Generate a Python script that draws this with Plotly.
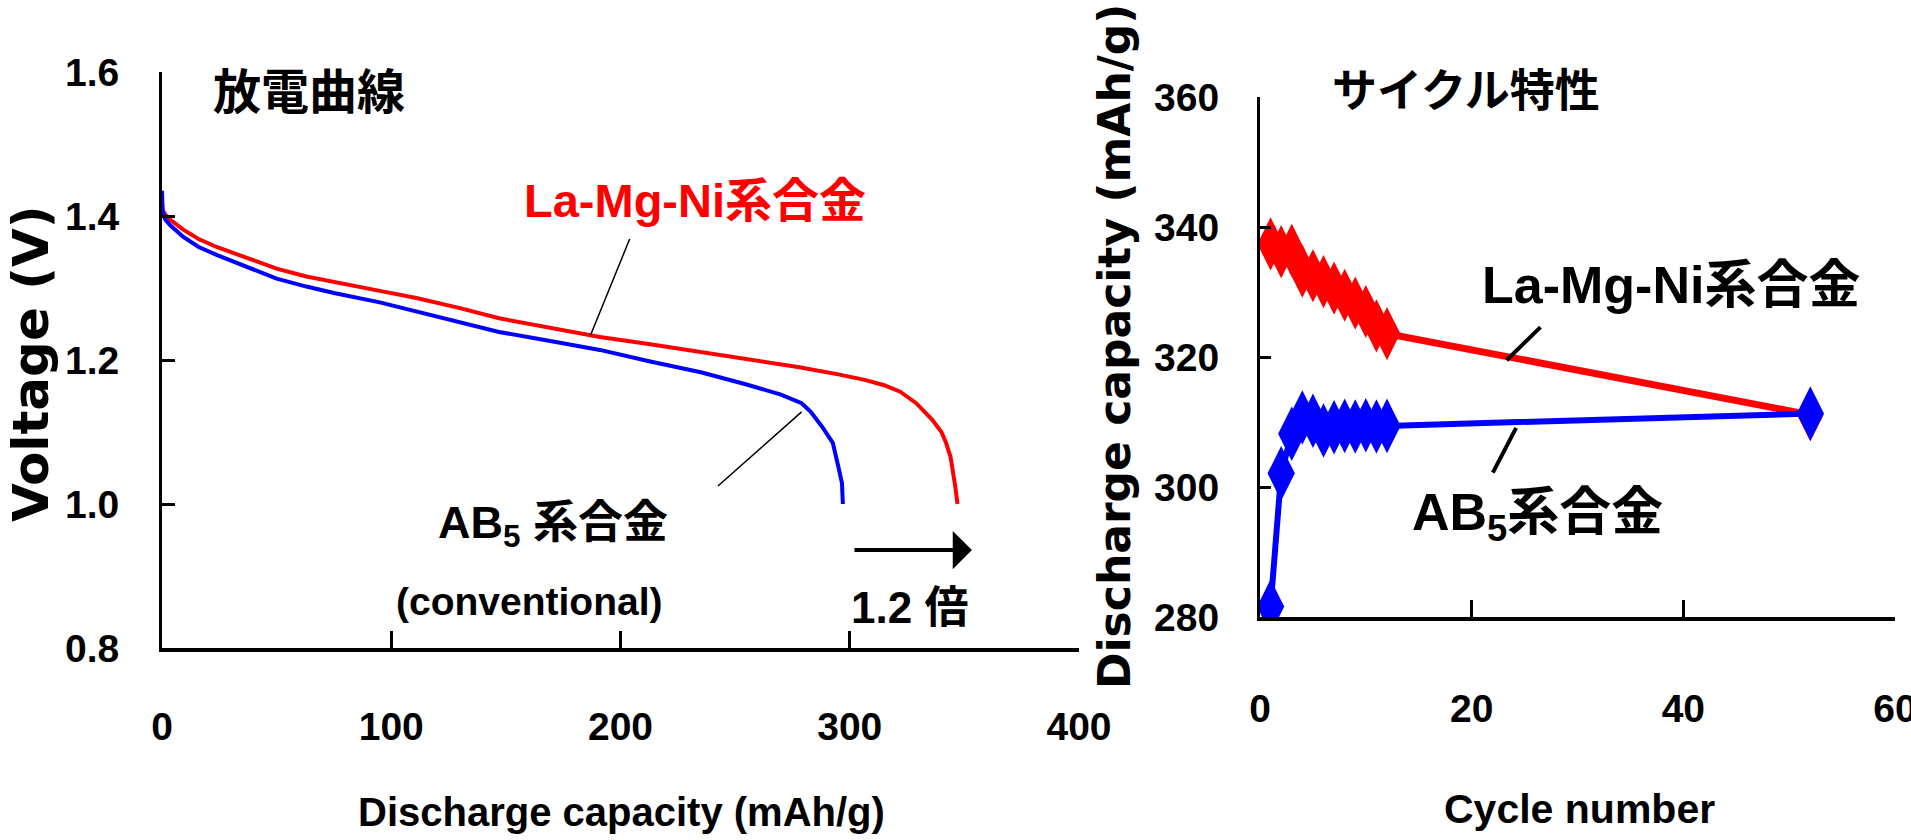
import plotly.graph_objects as go

# ---------------- data ----------------
# Discharge curves (left): capacity (mAh/g) vs voltage (V)
lamgni_cap = [0, 0.3, 1.5, 3.5, 9.3, 16, 23.8, 38.4, 50, 63, 75, 95, 111, 130, 147, 170, 191, 213,
              235, 256, 278, 295, 307, 315, 322, 329, 336, 340, 342, 344, 345, 346, 347]
lamgni_volt = [1.415, 1.408, 1.402, 1.395, 1.381, 1.368, 1.357, 1.340, 1.327, 1.316, 1.308, 1.296,
               1.286, 1.272, 1.258, 1.245, 1.232, 1.222, 1.211, 1.200, 1.190, 1.180, 1.172, 1.165,
               1.156, 1.140, 1.117, 1.100, 1.085, 1.065, 1.047, 1.025, 1.000]
ab5_cap = [0, 0.3, 1.5, 3.5, 9.3, 16, 23.8, 38.4, 50, 63, 75, 95, 111, 130, 147, 170, 191, 213,
           235, 255, 270, 279, 283, 288, 292.6, 295, 296.6, 297]
ab5_volt = [1.435, 1.405, 1.395, 1.3875, 1.371, 1.357, 1.346, 1.327, 1.313, 1.302, 1.293, 1.280,
            1.267, 1.252, 1.239, 1.226, 1.214, 1.198, 1.183, 1.166, 1.152, 1.140, 1.128, 1.107,
            1.085, 1.052, 1.029, 1.000]

# Cycle characteristics (right)
cycles = [1, 2, 3, 4, 5, 6, 7, 8, 9, 10, 11, 12, 52]
lamgni_capacity = [337.4, 336.2, 336.4, 333.2, 332.5, 331.6, 330.6, 329.5, 328.3, 327.0, 324.8, 323.6, 311.1]
ab5_capacity = [281.6, 302.1, 308.2, 310.7, 310.2, 308.7, 309.2, 309.4, 309.3, 309.5, 309.3, 309.4, 311.3]

x1_ticks = [0, 100, 200, 300, 400]
y1_ticks = [0.8, 1.0, 1.2, 1.4, 1.6]
y1_ticktext = ["0.8", "1.0", "1.2", "1.4", "1.6"]
x2_ticks = [0, 20, 40, 60]
y2_ticks = [280, 300, 320, 340, 360]

# ---------------- style ----------------
W, H = 1911, 840
RED = "#ff0000"
BLUE = "#0000ff"
SANS = "Liberation Sans, Arial, Noto Sans CJK JP, sans-serif"
CJK = "Noto Sans CJK JP, sans-serif"
ROT = "DejaVu Sans, sans-serif"


def px(x):
    return x / W


def py(y):
    return 1 - y / H


fig = go.Figure()

fig.add_trace(go.Scatter(x=lamgni_cap, y=lamgni_volt, mode="lines",
                         line=dict(color=RED, width=4), xaxis="x", yaxis="y", showlegend=False))
fig.add_trace(go.Scatter(x=ab5_cap, y=ab5_volt, mode="lines",
                         line=dict(color=BLUE, width=4), xaxis="x", yaxis="y", showlegend=False))

fig.add_trace(go.Scatter(x=cycles, y=lamgni_capacity, mode="lines+markers",
                         line=dict(color=RED, width=7),
                         marker=dict(symbol="diamond-tall", size=38, color=RED),
                         xaxis="x2", yaxis="y2", showlegend=False))
fig.add_trace(go.Scatter(x=cycles, y=ab5_capacity, mode="lines+markers",
                         line=dict(color=BLUE, width=6),
                         marker=dict(symbol="diamond-tall", size=39, color=BLUE),
                         xaxis="x2", yaxis="y2", showlegend=False))

axis_common = dict(showgrid=False, zeroline=False, showline=True, linecolor="black",
                   ticks="inside", tickcolor="black", mirror=False, automargin=False,
                   ticklabeloverflow="allow",
                   tickfont=dict(family=SANS, size=39, color="black", weight="bold"))

fig.update_layout(
    width=W, height=H,
    margin=dict(l=0, r=0, t=0, b=0, pad=0, autoexpand=False),
    paper_bgcolor="white", plot_bgcolor="white",
    xaxis=dict(domain=[px(162), px(1079)], range=[0, 400], tickvals=x1_ticks,
               anchor="y", linewidth=4, ticklen=17, tickwidth=3, ticklabelstandoff=41,
               **axis_common),
    yaxis=dict(domain=[py(648), py(72)], range=[0.8, 1.6], tickvals=y1_ticks,
               ticktext=y1_ticktext, anchor="x", linewidth=3, ticklen=13, tickwidth=3,
               ticklabelstandoff=32, **axis_common),
    xaxis2=dict(domain=[px(1260), px(1895)], range=[0, 60], tickvals=x2_ticks,
                anchor="y2", linewidth=4, ticklen=17, tickwidth=3, ticklabelstandoff=54,
                **axis_common),
    yaxis2=dict(domain=[py(617), py(97)], range=[280, 360], tickvals=y2_ticks,
                anchor="x2", linewidth=3, ticklen=11, tickwidth=3, ticklabelstandoff=30,
                **axis_common),
)

ann = []


def text(x, y, s, family, size, color="black", angle=0):
    ann.append(dict(x=px(x), y=py(y), xref="paper", yref="paper", text=s, showarrow=False,
                    xanchor="center", yanchor="middle", textangle=angle,
                    font=dict(family=family, size=size, color=color)))


# axis titles
text(621, 812, "<b>Discharge capacity (mAh/g)</b>", SANS, 40)
text(1579, 809, "<b>Cycle number</b>", SANS, 41)
text(31, 364, "<b>Voltage (V)</b>", ROT, 50, angle=-90)
text(1114, 347, "<b>Discharge capacity (mAh/g)</b>", ROT, 44, angle=-90)

# panel titles
text(309, 88, "<b>放電曲線</b>", CJK, 48)
text(1466, 88, "<b>サイクル特性</b>", CJK, 45)

# series labels
text(695, 200, "<b>La-Mg-Ni系合金</b>", SANS, 47, color=RED)
text(553, 525, "<b>AB<sub>5</sub> 系合金</b>", SANS, 45)
text(529, 601, "<b>(conventional)</b>", SANS, 39)
text(909, 607, "<b>1.2 倍</b>", SANS, 44)
text(1671, 285, "<b>La-Mg-Ni系合金</b>", SANS, 52)
text(1537, 516, "<b>AB<sub>5</sub>系合金</b>", SANS, 52)

# capacity ratio arrow
ann.append(dict(x=353.3, y=0.936, ax=301.4, ay=0.936, xref="x", yref="y", axref="x", ayref="y",
                text="", showarrow=True, arrowhead=1, arrowsize=1.6, arrowwidth=4,
                arrowcolor="black", standoff=0, startstandoff=0))

fig.update_layout(annotations=ann)

# leader lines from labels to curves
leaders = [
    ("x", "y", 204, 1.368, 187, 1.235, 1.5),
    ("x", "y", 279, 1.128, 242.5, 1.025, 1.5),
    ("x2", "y2", 26.5, 324.6, 23.3, 319.5, 4),
    ("x2", "y2", 24.2, 309.1, 22.0, 302.2, 4),
]
for xr, yr, x0, y0, x1, y1, w in leaders:
    fig.add_shape(type="line", xref=xr, yref=yr, x0=x0, y0=y0, x1=x1, y1=y1,
                  line=dict(color="black", width=w))

fig.write_html("out.html", config={"displayModeBar": False},
               post_script="document.body.style.margin='0';")
